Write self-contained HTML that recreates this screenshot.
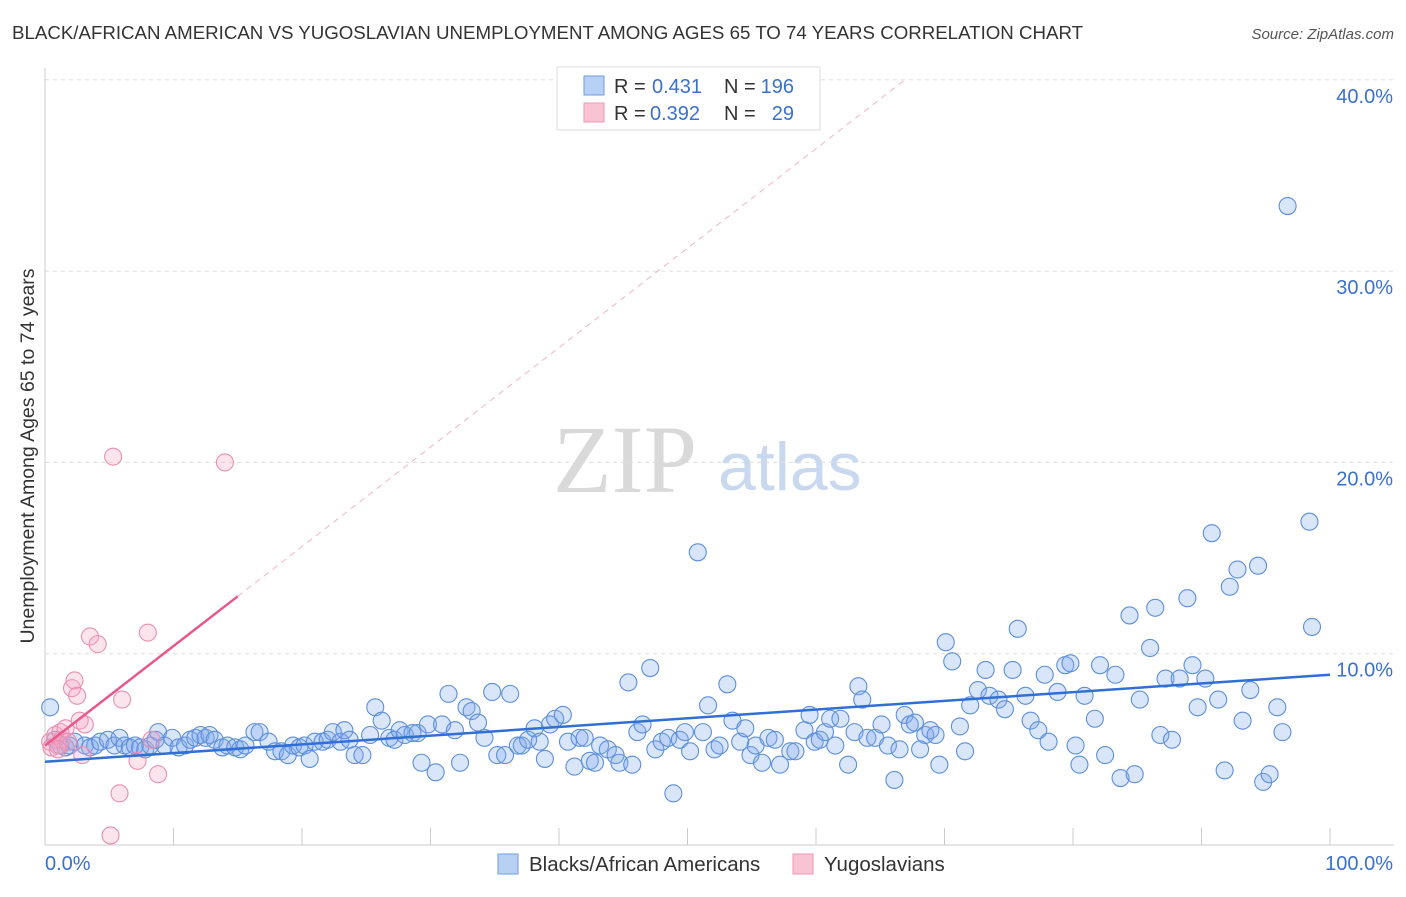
<!DOCTYPE html>
<html><head><meta charset="utf-8">
<style>
body{margin:0;background:#fff;font-family:"Liberation Sans",sans-serif;}
svg text{font-family:"Liberation Sans",sans-serif;}
</style></head>
<body>
<svg id="chart" width="1406" height="892" xmlns="http://www.w3.org/2000/svg">
<text x="12" y="39" font-size="18.7" fill="#333">BLACK/AFRICAN AMERICAN VS YUGOSLAVIAN UNEMPLOYMENT AMONG AGES 65 TO 74 YEARS CORRELATION CHART</text>
<text x="1394" y="39" font-size="15" fill="#555" text-anchor="end" font-style="italic">Source: ZipAtlas.com</text>
<g>
<text x="553" y="492" font-size="96" fill="#d9d9d9" style="font-family:'Liberation Serif',serif">ZIP</text>
<text x="718" y="490" font-size="68" fill="#c8d8ef">atlas</text>
</g>
<g id="grid"></g>
<g id="axes"></g>
<g id="marks"></g>
<text transform="translate(34,456) rotate(-90)" font-size="19.5" fill="#333" text-anchor="middle">Unemployment Among Ages 65 to 74 years</text>
<g>
<rect x="557" y="67" width="263" height="63" fill="#fff" stroke="#ddd"/>
<rect x="584" y="76" width="20" height="19" fill="#b8d0f3" stroke="#6f9be0"/>
<rect x="584" y="103" width="20" height="19" fill="#f8c4d4" stroke="#ec9ab6"/>
<text x="614" y="93" font-size="20" fill="#333">R =</text>
<text x="652" y="93" font-size="20" fill="#3a70d0">0.431</text>
<text x="724" y="93" font-size="20" fill="#333">N =</text>
<text x="794" y="93" font-size="20" fill="#3a70d0" text-anchor="end">196</text>
<text x="614" y="120" font-size="20" fill="#333">R =</text>
<text x="650" y="120" font-size="20" fill="#3a70d0">0.392</text>
<text x="724" y="120" font-size="20" fill="#333">N =</text>
<text x="794" y="120" font-size="20" fill="#3a70d0" text-anchor="end">29</text>
</g>
<g>
<rect x="498" y="854" width="20" height="20" fill="#b8d0f3" stroke="#6f9be0"/>
<text x="529" y="871" font-size="20.5" fill="#333">Blacks/African Americans</text>
<rect x="793" y="854" width="20" height="20" fill="#f8c4d4" stroke="#ec9ab6"/>
<text x="824" y="871" font-size="20.5" fill="#333">Yugoslavians</text>
</g>
</svg>
<script>
const yTicks=[10,20,30,40];
const yTickLabels=["10.0%","20.0%","30.0%","40.0%"];
const xTicks=[0,10,20,30,40,50,60,70,80,90,100];
const xEndLabels=["0.0%","100.0%"];
const blueX=[0.4,0.8,1.2,1.6,1.9,2.3,3.1,3.5,3.9,4.3,4.9,5.4,5.8,6.2,6.6,7.0,7.4,7.8,8.2,8.6,8.8,9.3,9.9,10.4,10.9,11.3,11.7,12.1,12.5,12.8,13.2,13.8,14.2,14.8,15.2,15.6,16.3,16.7,17.4,17.9,18.4,18.9,19.3,19.8,20.2,20.6,21.0,21.6,22.0,22.4,23.0,23.3,23.7,24.1,24.7,25.3,25.7,26.2,26.8,27.2,27.6,28.0,28.6,29.0,29.3,29.8,30.4,30.9,31.4,31.9,32.3,32.8,33.2,33.7,34.2,34.8,35.2,35.8,36.2,36.8,37.1,37.6,38.1,38.5,38.9,39.3,39.7,40.3,40.7,41.2,41.6,42.0,42.4,42.8,43.2,43.8,44.4,44.7,45.4,45.7,46.1,46.5,47.1,47.5,48.0,48.5,48.9,49.4,49.8,50.2,50.8,51.2,51.6,52.1,52.5,53.1,53.5,54.1,54.5,54.9,55.3,55.8,56.3,56.8,57.2,58.0,58.4,59.1,59.5,59.9,60.3,60.7,61.1,61.5,61.9,62.5,63.0,63.3,63.6,64.0,64.6,65.1,65.6,66.1,66.5,66.9,67.3,67.7,68.1,68.5,68.9,69.3,69.6,70.1,70.6,71.2,71.6,72.0,72.6,73.2,73.5,74.2,74.7,75.3,75.7,76.3,76.7,77.3,77.8,78.1,78.8,79.4,79.8,80.2,80.5,80.9,81.7,82.1,82.5,83.3,83.7,84.4,84.8,85.2,86.0,86.4,86.8,87.2,87.7,88.3,88.9,89.3,89.7,90.3,90.8,91.3,91.8,92.2,92.8,93.2,93.8,94.4,94.8,95.3,95.9,96.3,96.7,98.4,98.6];
const blueY=[7.2,5.5,5.2,5.1,5.2,5.4,5.2,5.1,5.2,5.4,5.5,5.2,5.6,5.2,5.1,5.2,5.1,5.0,5.2,5.5,5.9,5.2,5.6,5.1,5.2,5.5,5.6,5.75,5.6,5.75,5.5,5.1,5.2,5.1,5.0,5.2,5.9,5.9,5.4,4.9,4.9,4.7,5.2,5.1,5.2,4.5,5.4,5.4,5.5,5.9,5.4,6.0,5.5,4.7,4.7,5.75,7.2,6.5,5.6,5.5,6.0,5.75,5.85,5.85,4.3,6.3,3.8,6.3,7.9,6.0,4.3,7.2,7.0,6.4,5.6,8.0,4.7,4.7,7.9,5.2,5.2,5.5,6.1,5.4,4.5,6.3,6.6,6.8,5.4,4.1,5.6,5.6,4.4,4.3,5.2,5.0,4.7,4.3,8.5,4.2,5.9,6.3,9.25,5.0,5.4,5.6,2.7,5.5,5.9,4.9,15.3,5.9,7.3,5.0,5.2,8.4,6.5,5.4,6.1,4.7,5.2,4.3,5.6,5.5,4.2,4.9,4.9,6.0,6.8,5.4,5.5,5.9,6.6,5.2,6.6,4.2,5.9,8.3,7.6,5.6,5.6,6.3,5.2,3.4,5.0,6.8,6.3,6.4,5.0,5.75,6.0,5.75,4.2,10.6,9.6,6.2,4.9,7.3,8.1,9.15,7.8,7.6,7.1,9.15,11.3,7.8,6.5,6.0,8.9,5.4,8.0,9.4,9.5,5.2,4.2,7.8,6.6,9.4,4.7,8.9,3.5,12.0,3.7,7.6,10.3,12.4,5.75,8.7,5.5,8.7,12.9,9.4,7.2,8.7,16.3,7.6,3.9,13.5,14.4,6.5,8.1,14.6,3.3,3.7,7.2,5.9,33.4,16.9,11.4];
const pinkX=[0.4,0.5,0.8,1.0,1.2,1.3,1.6,1.8,2.1,2.3,2.5,2.7,2.9,3.1,3.5,4.1,5.3,5.8,6.0,7.2,8.0,8.3,8.8,5.1,14.0,1.0];
const pinkY=[5.4,5.1,5.75,5.2,5.9,5.5,6.1,5.4,8.2,8.6,7.8,6.5,4.7,6.3,10.9,10.5,20.3,2.7,7.6,4.4,11.1,5.5,3.7,0.5,20.0,5.0];
const blueTrend=[4.35,8.9];
const pinkTrend=[5.2,0.52];
const pinkSolidEnd=15;
const X0=45,X1=1330,Y0=845,YPER=19.13;
const sx=v=>X0+(X1-X0)*v/100;
const sy=v=>Y0-v*YPER;
const NS="http://www.w3.org/2000/svg";
function mk(tag,attrs,parent){const e=document.createElementNS(NS,tag);for(const k in attrs)e.setAttribute(k,attrs[k]);parent.appendChild(e);return e;}
const grid=document.getElementById('grid'),axes=document.getElementById('axes'),marks=document.getElementById('marks');
yTicks.forEach((t,i)=>{
 const l=mk('line',{x1:X0,x2:1394,y1:sy(t),y2:sy(t),stroke:'#ddd','stroke-dasharray':'4,4'},grid);
 
 
 const tx=mk('text',{x:1393,y:sy(t)+23,'font-size':20,fill:'#3a70d0','text-anchor':'end'},axes);
 tx.textContent=yTickLabels[i];
 
 
});
const ax=mk('line',{x1:X0,x2:1394,y1:Y0,y2:Y0,stroke:'#ccc'},axes);


const ay=mk('line',{x1:X0,x2:X0,y1:68,y2:Y0,stroke:'#ccc'},axes);


xTicks.forEach(t=>{
 const l=mk('line',{x1:sx(t),x2:sx(t),y1:828,y2:Y0,stroke:'#ccc'},axes);
 
 
});
const xl0=mk('text',{x:45,y:870,'font-size':20,fill:'#3a70d0'},axes);xl0.textContent=xEndLabels[0];


const xl1=mk('text',{x:1393,y:870,'font-size':20,fill:'#3a70d0','text-anchor':'end'},axes);xl1.textContent=xEndLabels[1];


blueX.forEach((x,i)=>{
 const c=mk('circle',{cx:sx(x),cy:sy(blueY[i]),r:8.5,fill:'rgba(130,170,235,0.3)',stroke:'#5b8fdd','stroke-width':1.1},marks);
 
 
});
pinkX.forEach((x,i)=>{
 const c=mk('circle',{cx:sx(x),cy:sy(pinkY[i]),r:8.5,fill:'rgba(245,165,195,0.3)',stroke:'#ea8fb0','stroke-width':1.1},marks);
 
 
});
const bl=mk('line',{x1:sx(0),y1:sy(blueTrend[0]),x2:sx(100),y2:sy(blueTrend[1]),stroke:'#2f6fd6','stroke-width':2.5},marks);


const pf=x=>pinkTrend[0]+pinkTrend[1]*x;
const xEnd=(40-pinkTrend[0])/pinkTrend[1];
const pd=mk('line',{x1:sx(pinkSolidEnd),y1:sy(pf(pinkSolidEnd)),x2:sx(xEnd),y2:sy(pf(xEnd)),stroke:'#f2b4c8','stroke-width':1,'stroke-dasharray':'6,5'},marks);


const pl=mk('line',{x1:sx(0),y1:sy(pf(0)),x2:sx(pinkSolidEnd),y2:sy(pf(pinkSolidEnd)),stroke:'#e8588a','stroke-width':2.5},marks);


</script>
</body></html>
